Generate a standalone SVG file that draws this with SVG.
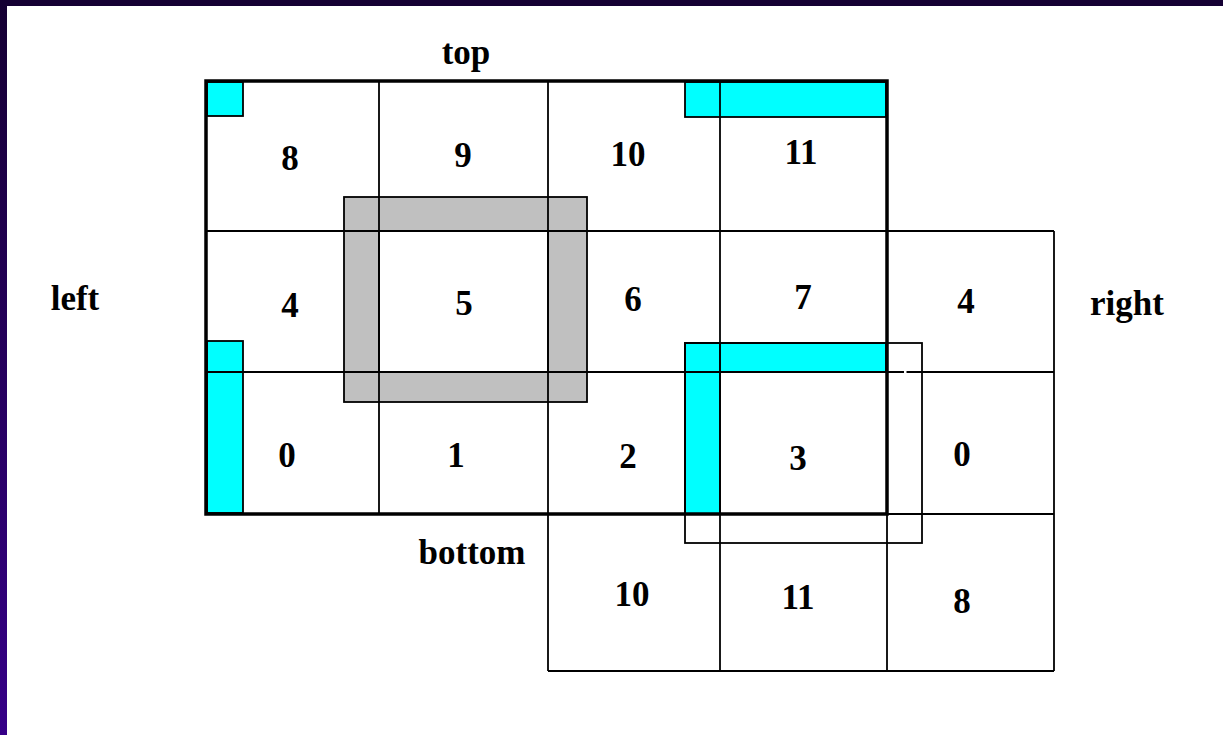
<svg xmlns="http://www.w3.org/2000/svg" width="1223" height="735" viewBox="0 0 1223 735">
  <defs>
    <linearGradient id="leftband" x1="0" y1="0" x2="0" y2="1">
      <stop offset="0" stop-color="#150033"/>
      <stop offset="1" stop-color="#360088"/>
    </linearGradient>
  </defs>
  <style>
    .t { font-family: "Liberation Serif", "Times New Roman", serif; font-weight: bold; font-size: 35px; fill: #000; text-anchor: middle; }
    .thin { stroke: #000; stroke-width: 1.8; fill: none; }
    .bold { stroke: #000; stroke-width: 3.5; fill: none; }
    .cyan { fill: #00ffff; stroke: #000; stroke-width: 1.8; }
    .gray { fill: #c0c0c0; stroke: #000; stroke-width: 1.8; }
  </style>
  <rect x="0" y="0" width="1223" height="735" fill="#ffffff"/>
  <rect x="0" y="0" width="1223" height="6" fill="#150033"/>
  <rect x="0" y="0" width="7" height="735" fill="url(#leftband)"/>

  <g id="group-5-frame">
    <rect class="gray" x="344" y="197" width="243" height="205"/>
    <rect x="379" y="231" width="169" height="141" fill="#ffffff" stroke="#000" stroke-width="1.8"/>
  </g>

  <g id="cyan-groups">
    <rect class="cyan" x="207" y="82" width="36" height="34"/>
    <rect class="cyan" x="685" y="82" width="201" height="35"/>
    <rect class="cyan" x="207" y="341" width="36" height="172"/>
    <rect class="cyan" x="685" y="343" width="201" height="29"/>
    <rect class="cyan" x="685" y="343" width="35" height="171"/>
  </g>

  <g id="wrap-outline">
    <rect class="thin" x="685" y="343" width="237" height="200"/>
  </g>

  <g id="connectors">
    <line class="thin" x1="206" y1="231" x2="1054" y2="231"/>
    <line class="thin" x1="206" y1="372" x2="1054" y2="372"/>
    <line class="thin" x1="887" y1="514" x2="1054" y2="514"/>
    <line class="thin" x1="548" y1="671" x2="1054" y2="671"/>
    <line class="thin" x1="379" y1="81" x2="379" y2="514"/>
    <line class="thin" x1="548" y1="81" x2="548" y2="671"/>
    <line class="thin" x1="720" y1="81" x2="720" y2="671"/>
    <line class="thin" x1="887" y1="514" x2="887" y2="671"/>
    <line class="thin" x1="1054" y1="231" x2="1054" y2="671"/>
    <rect class="bold" x="206" y="81" width="681" height="433"/>
    <rect x="904" y="370" width="2.5" height="4" fill="#ffffff"/>
  </g>

  <g id="labels">
    <text class="t" x="466" y="64">top</text>
    <text class="t" x="75" y="310">left</text>
    <text class="t" x="1127" y="315">right</text>
    <text class="t" x="472" y="564">bottom</text>
  </g>

  <g id="cell-8"><text class="t" x="290" y="170">8</text></g>
  <g id="cell-9"><text class="t" x="463" y="167">9</text></g>
  <g id="cell-10"><text class="t" x="628" y="166">10</text></g>
  <g id="cell-11"><text class="t" x="801" y="164">11</text></g>
  <g id="cell-4"><text class="t" x="290" y="317">4</text></g>
  <g id="cell-5"><text class="t" x="464" y="315">5</text></g>
  <g id="cell-6"><text class="t" x="633" y="311">6</text></g>
  <g id="cell-7"><text class="t" x="803" y="309">7</text></g>
  <g id="cell-4-wrap"><text class="t" x="966" y="313">4</text></g>
  <g id="cell-0"><text class="t" x="287" y="467">0</text></g>
  <g id="cell-1"><text class="t" x="456" y="467">1</text></g>
  <g id="cell-2"><text class="t" x="628" y="468">2</text></g>
  <g id="cell-3"><text class="t" x="798" y="470">3</text></g>
  <g id="cell-0-wrap"><text class="t" x="962" y="466">0</text></g>
  <g id="cell-10-wrap"><text class="t" x="632" y="606">10</text></g>
  <g id="cell-11-wrap"><text class="t" x="798" y="609">11</text></g>
  <g id="cell-8-wrap"><text class="t" x="962" y="613">8</text></g>
</svg>
